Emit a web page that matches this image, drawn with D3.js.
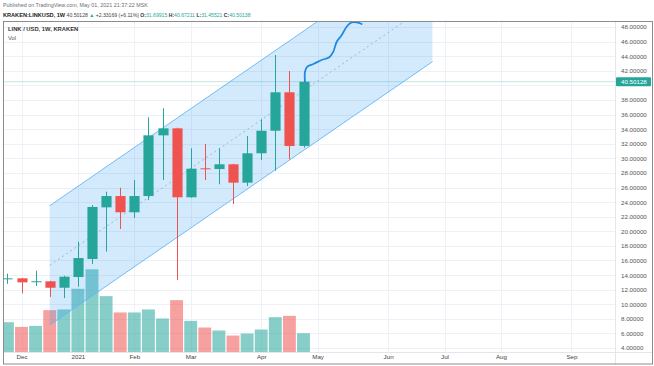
<!DOCTYPE html>
<html><head><meta charset="utf-8">
<script src="https://cdn.jsdelivr.net/npm/d3@7"></script>
<style>
html,body{margin:0;padding:0;background:#fff;}
svg{display:block;font-family:"Liberation Sans",Arial,sans-serif;}
</style></head>
<body><svg id="c" width="654" height="366"></svg>
<script>
// ---- data ----
const weeks = ["2020-11-30","2020-12-07","2020-12-14","2020-12-21","2020-12-28","2021-01-04","2021-01-11","2021-01-18","2021-01-25","2021-02-01","2021-02-08","2021-02-15","2021-02-22","2021-03-01","2021-03-08","2021-03-15","2021-03-22","2021-03-29","2021-04-05","2021-04-12","2021-04-19","2021-04-26"];
const open  = [13.45,13.55,13.05,13.14,12.26,13.73,16.20,23.28,24.83,22.60,24.83,33.15,34.11,24.66,28.63,28.53,29.18,26.66,30.69,33.78,39.05,31.69915];
const high  = [14.20,13.60,14.60,13.20,13.90,18.57,23.60,25.42,25.97,27.03,35.62,36.86,34.20,31.37,31.96,31.37,29.25,33.06,35.35,44.16,41.97,40.67211];
const low   = [12.80,11.50,12.50,11.00,10.85,12.40,15.50,17.20,20.31,21.82,24.28,27.03,13.32,24.60,27.03,26.44,23.74,26.20,29.77,28.30,29.86,31.45521];
const close = [13.55,13.00,13.15,12.26,13.77,16.33,23.33,24.83,22.60,24.83,33.15,34.11,24.66,28.58,28.53,29.18,26.66,30.69,33.78,39.05,31.69,40.50128];
const volume = [2.97,2.50,2.60,4.17,4.24,6.30,8.24,5.57,3.94,3.94,4.24,3.34,5.17,3.10,2.44,2.14,1.64,1.84,2.24,3.47,3.60,1.87];

const priceTicks = d3.range(4, 49, 2);
const monthTickDates = ["2020-12-07","2021-01-04","2021-02-01","2021-03-01","2021-04-05","2021-05-03","2021-06-07","2021-07-05","2021-08-02","2021-09-06"];
const monthTickLabels = ["Dec","2021","Feb","Mar","Apr","May","Jun","Jul","Aug","Sep"];

// parallel channel (dates, lower-line prices, width)
const channelDates = ["2020-12-21","2021-06-29"];
const channelLower = [7.15, 43.24];
const channelWidth = 16.35;

// freehand projection (days after last bar, price)
const projDays  = [0.74,0.74,1.9,4.9,9.0,12.8,14.8,16.5,19.0,21.4,23.9,26.4,28.9];
const projPrice = [40.50,41.87,42.56,42.93,43.48,43.85,44.62,45.98,46.90,48.04,48.64,48.64,48.41];

const lastPrice = 40.50128;

// ---- layout ----
const W = 654, H = 366;
const plot = {x0:3, x1:615, y0:21, y1:352};
const UP = "#26a69a", DN = "#ef5350";
const parse = s => new Date(s + "T00:00:00Z");

const x = d3.scaleUtc().domain([parse("2020-11-30"), parse("2021-09-06")]).range([7.4, 571.4]);
const y = d3.scaleLinear().domain([4, 48]).range([348, 27]);
const yV = d3.scaleLinear().domain([0, d3.max(volume)]).range([plot.y1, 269.3]);
const dayPx = x(parse("2020-12-07")) - x(parse("2020-11-30"));
const bodyW = dayPx * 0.72, volW = dayPx - 1.2;

const svg = d3.select("#c");
svg.append("rect").attr("width", W).attr("height", H).attr("fill", "#fff");

svg.append("defs").append("clipPath").attr("id", "pc")
  .append("rect").attr("x", plot.x0).attr("y", plot.y0)
  .attr("width", plot.x1 - plot.x0).attr("height", plot.y1 - plot.y0);

// header
const hdr = svg.append("g").attr("font-size", 5.4).attr("fill", "#6b6e78");
hdr.append("text").attr("x", 3).attr("y", 7).text("Published on TradingView.com, May 01, 2021 21:37:22 MSK");
const t2 = hdr.append("text").attr("x", 3).attr("y", 16.5).attr("font-size", 5.1);
t2.append("tspan").attr("font-weight", "bold").attr("fill", "#222").attr("font-size", 5.6).text("KRAKEN:LINKUSD, 1W");
t2.append("tspan").attr("fill", "#444").text(" 40.50128 ");
t2.append("tspan").attr("fill", UP).text("▲");
t2.append("tspan").attr("fill", "#444").text(" +2.33169 (+6.11%) ");
[["O:", "31.69915"], ["H:", "40.67211"], ["L:", "31.45521"], ["C:", "40.50138"]].forEach(([k, v]) => {
  t2.append("tspan").attr("fill", "#333").attr("font-weight", "bold").text(k);
  t2.append("tspan").attr("fill", UP).text(v + " ");
});

const g = svg.append("g").attr("clip-path", "url(#pc)");

// grid
g.append("g").selectAll("line").data(priceTicks).join("line")
  .attr("x1", plot.x0).attr("x2", plot.x1)
  .attr("y1", d => Math.round(y(d)) + 0.5).attr("y2", d => Math.round(y(d)) + 0.5)
  .attr("stroke", "#eef1f5");
g.append("g").selectAll("line").data(monthTickDates).join("line")
  .attr("x1", d => Math.round(x(parse(d))) + 0.5).attr("x2", d => Math.round(x(parse(d))) + 0.5)
  .attr("y1", plot.y0).attr("y2", plot.y1)
  .attr("stroke", "#eef1f5");

// volume
const bars = weeks.map((w, i) => ({d: parse(w), o: open[i], h: high[i], l: low[i], c: close[i], v: volume[i]}));
g.append("g").selectAll("rect").data(bars).join("rect")
  .attr("x", d => x(d.d) - volW / 2).attr("width", volW)
  .attr("y", d => yV(d.v)).attr("height", d => plot.y1 - yV(d.v))
  .attr("fill", d => d.c >= d.o ? UP : DN).attr("fill-opacity", 0.55);

// current price line
g.append("line").attr("x1", plot.x0).attr("x2", plot.x1)
  .attr("y1", y(lastPrice)).attr("y2", y(lastPrice))
  .attr("stroke", UP).attr("stroke-opacity", 0.35).attr("stroke-width", 0.8);

// channel
const cd = channelDates.map(parse);
const cx0 = x(cd[0]), cx1 = x(cd[1]);
const lo0 = y(channelLower[0]), lo1 = y(channelLower[1]);
const up0 = y(channelLower[0] + channelWidth), up1 = y(channelLower[1] + channelWidth);
const md0 = y(channelLower[0] + channelWidth / 2), md1 = y(channelLower[1] + channelWidth / 2);
g.append("path")
  .attr("d", `M${cx0},${lo0}L${cx1},${lo1}L${cx1},${up1}L${cx0},${up0}Z`)
  .attr("fill", "#2196f3").attr("fill-opacity", 0.2).attr("stroke", "none");
[[lo0, lo1], [up0, up1]].forEach(([a, b]) => {
  g.append("line").attr("x1", cx0).attr("y1", a).attr("x2", cx1).attr("y2", b)
    .attr("stroke", "#64b5f6").attr("stroke-width", 0.9);
});
g.append("line").attr("x1", cx0).attr("y1", md0).attr("x2", cx1).attr("y2", md1)
  .attr("stroke", "#8ab4cf").attr("stroke-width", 0.9).attr("stroke-dasharray", "2,3");

// candles
const cg = g.append("g");
cg.selectAll("line").data(bars).join("line")
  .attr("x1", d => Math.round(x(d.d)) + 0.5).attr("x2", d => Math.round(x(d.d)) + 0.5)
  .attr("y1", d => y(d.h)).attr("y2", d => y(d.l))
  .attr("stroke", d => d.c >= d.o ? UP : DN).attr("stroke-width", 1);
cg.selectAll("rect").data(bars).join("rect")
  .attr("x", d => Math.round(x(d.d)) + 0.5 - bodyW / 2).attr("width", bodyW)
  .attr("y", d => y(Math.max(d.o, d.c)))
  .attr("height", d => Math.max(1, Math.abs(y(d.o) - y(d.c))))
  .attr("fill", d => d.c >= d.o ? UP : DN);

// projection brush
const base = parse(weeks[weeks.length - 1]).getTime();
const proj = projDays.map((dd, i) => [x(new Date(base + dd * 864e5)), y(projPrice[i])]);
g.append("path").attr("d", d3.line().curve(d3.curveCatmullRom)(proj))
  .attr("fill", "none").attr("stroke", "#1e88e5").attr("stroke-width", 1.8)
  .attr("stroke-linecap", "round");

// pane legend
svg.append("text").attr("x", 8).attr("y", 31).attr("font-size", 5.8).attr("font-weight", "bold")
  .attr("fill", "#333").text("LINK / USD, 1W, KRAKEN");
svg.append("text").attr("x", 8).attr("y", 40).attr("font-size", 5.8).attr("fill", "#555").text("Vol");

// frame lines
svg.append("line").attr("x1", plot.x1 + 0.5).attr("x2", plot.x1 + 0.5).attr("y1", plot.y0).attr("y2", 364)
  .attr("stroke", "#e3e6ea");
svg.append("line").attr("x1", plot.x0).attr("x2", 653).attr("y1", plot.y1 + 0.5).attr("y2", plot.y1 + 0.5)
  .attr("stroke", "#e3e6ea");
svg.append("rect").attr("x", 3.5).attr("y", 21.5).attr("width", 649).attr("height", 342.5)
  .attr("fill", "none").attr("stroke", "#8c8c8c").attr("stroke-width", 1);

// price axis (label hidden under the last-price badge)
const ya = svg.append("g").attr("transform", `translate(${plot.x1 + 6},0)`)
  .call(d3.axisRight(y).tickValues(priceTicks.filter(v => Math.abs(y(v) - y(lastPrice)) > 6))
    .tickFormat(d3.format(".5f")).tickSize(0).tickPadding(0));
ya.select(".domain").remove();
ya.selectAll("text").attr("font-size", 6.2).attr("fill", "#555").attr("font-family", "Liberation Sans, Arial, sans-serif");

// last price label
const lp = svg.append("g").attr("transform", `translate(${plot.x1 + 1},${y(lastPrice)})`);
lp.append("rect").attr("x", 0).attr("y", -4.5).attr("width", 35).attr("height", 9).attr("rx", 1).attr("fill", UP);
lp.append("text").attr("x", 5).attr("y", 0).attr("dy", "0.35em").attr("font-size", 6.2).attr("fill", "#fff")
  .text(d3.format(".5f")(lastPrice));

// time axis
const xa = svg.append("g").attr("transform", `translate(0,${plot.y1})`)
  .call(d3.axisBottom(x).tickValues(monthTickDates.map(parse))
    .tickFormat((d, i) => monthTickLabels[i]).tickSize(0).tickPadding(3));
xa.select(".domain").remove();
xa.selectAll("text").attr("font-size", 6.2).attr("fill", "#444").attr("font-family", "Liberation Sans, Arial, sans-serif");
</script>
</body></html>
